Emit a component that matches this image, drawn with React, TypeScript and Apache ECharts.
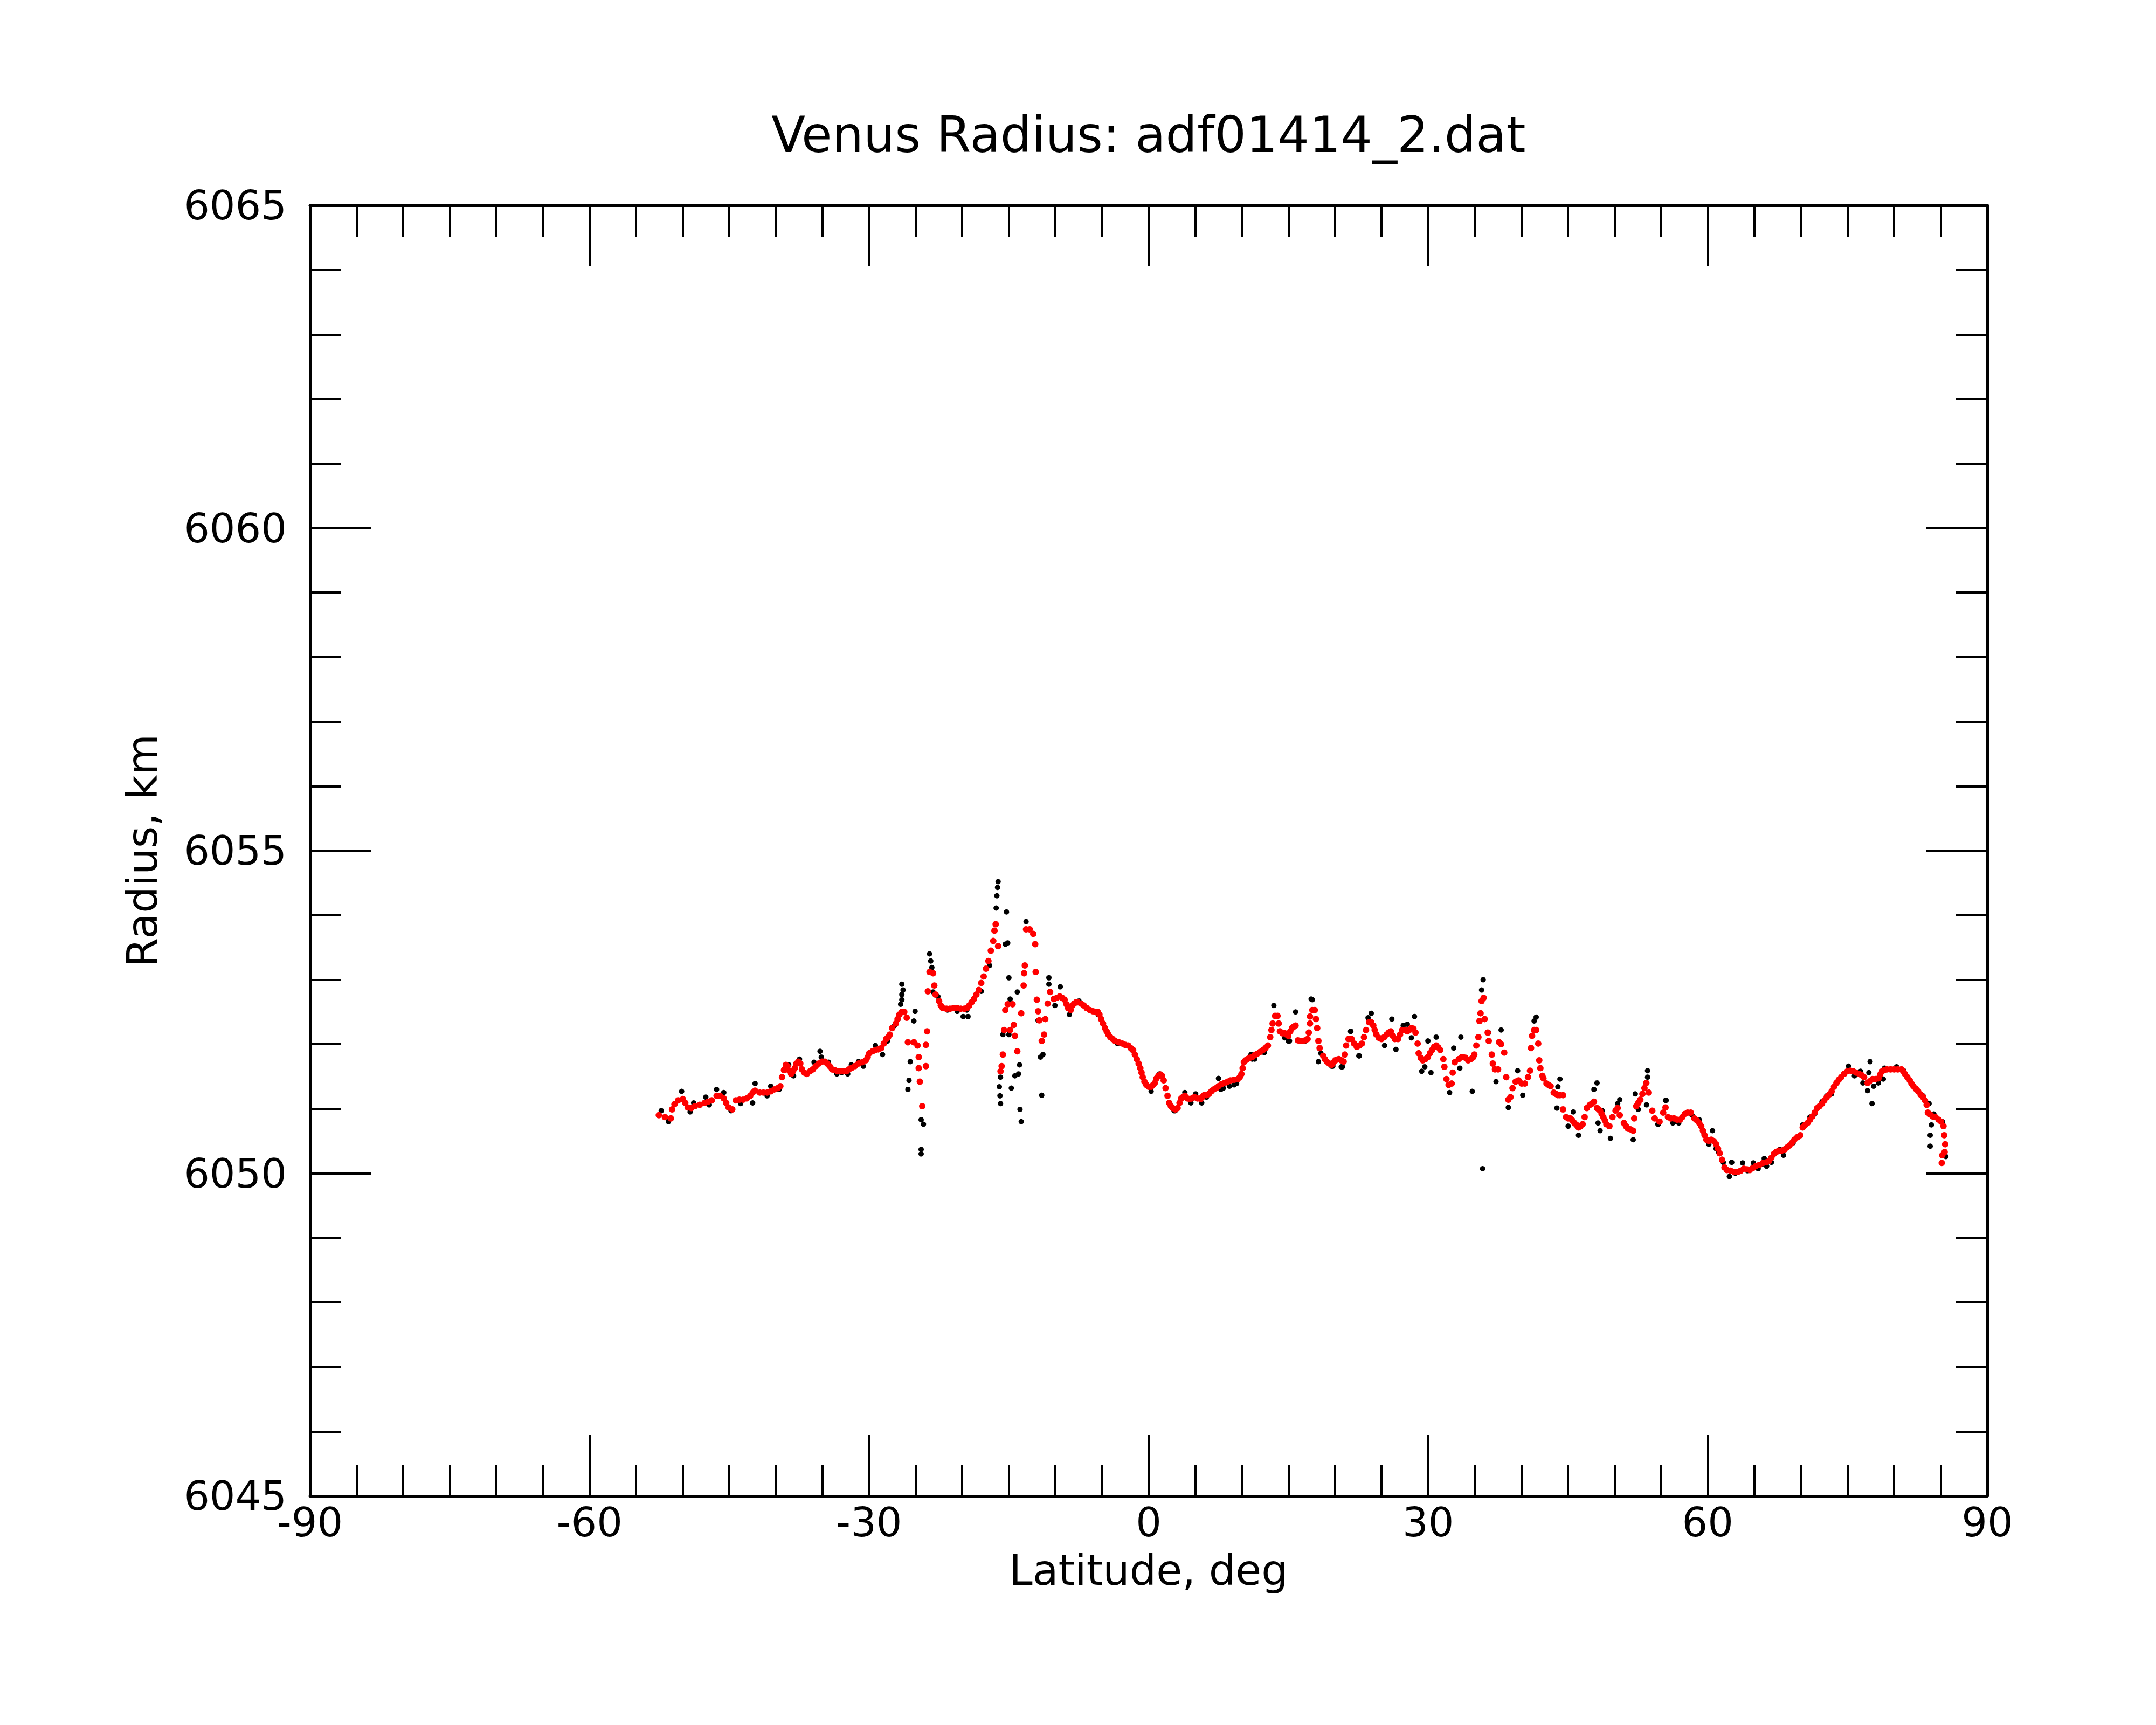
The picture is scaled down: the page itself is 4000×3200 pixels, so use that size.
import React, { useEffect, useRef } from "react";
import * as echarts from "echarts";

const TITLE = "Venus Radius: adf01414_2.dat";
const X_NAME = "Latitude, deg";
const Y_NAME = "Radius, km";
const X_MIN = -90;
const X_MAX = 90;
const X_STEP = 30;
const Y_MIN = 6045;
const Y_MAX = 6065;
const Y_STEP = 5;

// Red (smoothed) points: [latitude deg, radius km]
const redSouth: [number, number][] = [
  [-52.56, 6050.9], [-51.27, 6050.85], [-51.14, 6050.99], [-50.49, 6051.13], [-49.98, 6051.15],
  [-49.46, 6051.02], [-48.69, 6051.04], [-47.65, 6051.09], [-46.88, 6051.13], [-46.36, 6051.2],
  [-45.59, 6051.16], [-45.07, 6051.02], [-44.68, 6050.99], [-44.3, 6051.13], [-43.52, 6051.14],
  [-42.75, 6051.2], [-42.23, 6051.28], [-41.72, 6051.25], [-40.94, 6051.25], [-40.17, 6051.3],
  [-39.52, 6051.35], [-39.13, 6051.6], [-38.75, 6051.66], [-38.36, 6051.54], [-37.97, 6051.63],
  [-37.58, 6051.73], [-37.2, 6051.61], [-36.68, 6051.54], [-36.03, 6051.61], [-35.39, 6051.7],
  [-34.74, 6051.73], [-34.23, 6051.66], [-33.71, 6051.6], [-33.07, 6051.58], [-32.42, 6051.58],
  [-31.9, 6051.63], [-31.13, 6051.7], [-30.35, 6051.75], [-29.97, 6051.86], [-29.32, 6051.91],
  [-28.68, 6051.94], [-28.16, 6052.08], [-27.77, 6052.15], [-27.52, 6052.25], [-27.13, 6052.32],
  [-26.74, 6052.46], [-26.22, 6052.5], [-25.96, 6052.41],
];

const redSouthMore: [number, number][] = [
  [-51.91, 6050.87], [-50.88, 6051.07], [-49.72, 6051.09], [-49.07, 6051.01], [-48.17, 6051.06],
  [-47.27, 6051.11], [-45.98, 6051.2], [-45.33, 6051.09], [-43.91, 6051.14], [-43.13, 6051.16],
  [-42.49, 6051.25], [-41.33, 6051.25], [-40.55, 6051.27], [-39.78, 6051.32], [-39.34, 6051.49],
  [-38.93, 6051.68], [-38.56, 6051.59], [-38.15, 6051.58], [-37.79, 6051.7], [-37.38, 6051.7],
  [-36.94, 6051.56], [-36.34, 6051.58], [-35.72, 6051.66], [-35.05, 6051.73], [-34.49, 6051.7],
  [-33.97, 6051.61], [-33.4, 6051.58], [-32.73, 6051.58], [-32.16, 6051.61], [-31.52, 6051.66],
  [-30.74, 6051.72], [-30.15, 6051.8], [-29.63, 6051.89], [-29.01, 6051.92], [-28.42, 6052.01],
  [-27.95, 6052.11], [-26.94, 6052.39], [-26.48, 6052.5],
];

const redGap: [number, number][] = [
  [-25.83, 6052.03], [-25.19, 6052.03], [-24.8, 6051.98], [-24.67, 6051.8], [-24.67, 6051.63],
  [-24.55, 6051.42], [-24.29, 6051.04], [-23.9, 6051.66], [-23.9, 6051.99], [-23.77, 6052.2],
  [-23.69, 6052.82], [-23.51, 6053.12], [-23.13, 6053.1], [-23.0, 6052.91], [-22.87, 6052.77],
  [-22.48, 6052.67], [-22.09, 6052.56], [-21.32, 6052.55], [-20.54, 6052.56], [-19.77, 6052.55],
  [-19.25, 6052.6], [-18.74, 6052.7], [-18.22, 6052.84], [-17.7, 6053.05], [-17.19, 6053.29],
  [-16.67, 6053.6], [-16.54, 6053.76], [-16.41, 6053.86], [-16.15, 6053.52],
  [-22.3, 6052.6], [-21.7, 6052.55], [-20.93, 6052.56], [-20.16, 6052.55], [-19.51, 6052.56],
  [-19.0, 6052.65], [-18.48, 6052.77], [-17.96, 6052.95], [-17.45, 6053.17], [-16.93, 6053.45],
  [-15.38, 6052.53], [-15.12, 6052.62], [-14.6, 6052.62], [-15.51, 6052.22], [-15.64, 6051.84],
  [-15.77, 6051.66], [-15.89, 6051.58], [-14.86, 6052.22], [-14.47, 6052.3], [-14.35, 6052.13],
  [-14.09, 6051.89], [-13.67, 6052.48], [-13.41, 6052.91], [-13.36, 6053.1], [-13.28, 6053.22],
  [-13.15, 6053.78], [-12.76, 6053.78], [-12.38, 6053.71], [-12.17, 6053.55], [-12.12, 6053.12],
  [-11.99, 6052.69], [-11.86, 6052.51], [-11.73, 6052.37], [-11.47, 6052.05], [-11.22, 6052.15],
  [-11.09, 6052.39], [-10.83, 6052.63], [-10.57, 6052.81],
];

const redEquator: [number, number][] = [
  [-10.18, 6052.7], [-9.54, 6052.74], [-9.02, 6052.69], [-8.63, 6052.56], [-8.37, 6052.53],
  [-7.99, 6052.63], [-7.6, 6052.65], [-6.95, 6052.6], [-6.31, 6052.53], [-5.66, 6052.5],
  [-5.28, 6052.46], [-4.89, 6052.32], [-4.5, 6052.2], [-4.11, 6052.11], [-3.6, 6052.05],
  [-2.82, 6052.01], [-2.18, 6051.98], [-1.66, 6051.91], [-1.27, 6051.77], [-0.89, 6051.63],
  [-0.63, 6051.49], [-0.24, 6051.37], [0.27, 6051.34], [0.66, 6051.4], [1.05, 6051.51],
  [1.44, 6051.51], [1.82, 6051.32], [2.21, 6051.09], [2.6, 6051.01], [3.11, 6051.01],
  [3.5, 6051.16], [3.89, 6051.2], [4.41, 6051.15], [4.92, 6051.18], [5.57, 6051.15],
  [5.95, 6051.21], [6.47, 6051.23], [6.99, 6051.3], [7.5, 6051.35], [8.15, 6051.4],
  [8.79, 6051.44], [9.57, 6051.46], [9.96, 6051.54], [10.22, 6051.72], [10.6, 6051.77],
  [11.12, 6051.8], [11.63, 6051.85], [12.28, 6051.91], [12.8, 6051.98], [13.05, 6052.11],
  [13.31, 6052.32], [13.57, 6052.44], [13.83, 6052.44], [13.96, 6052.32], [14.09, 6052.2],
  [14.6, 6052.17], [14.99, 6052.13], [15.38, 6052.25], [15.77, 6052.29], [16.02, 6052.06],
  [16.54, 6052.05], [17.06, 6052.08], [17.19, 6052.18], [17.32, 6052.32], [17.32, 6052.43],
  [17.57, 6052.53], [17.83, 6052.53], [17.96, 6052.39], [18.09, 6052.25], [18.22, 6052.05],
  [18.35, 6051.94], [18.74, 6051.82], [19.12, 6051.73], [19.64, 6051.68], [20.03, 6051.75],
  [20.41, 6051.77], [20.93, 6051.73], [21.06, 6051.84], [21.19, 6051.98],
];

const redEquatorMore: [number, number][] = [
  [-9.85, 6052.72], [-9.28, 6052.72], [-8.81, 6052.62], [-8.19, 6052.6], [-7.78, 6052.65],
  [-7.26, 6052.63], [-6.64, 6052.56], [-5.97, 6052.51], [-5.46, 6052.5], [-5.1, 6052.39],
  [-4.68, 6052.25], [-4.32, 6052.15], [-3.86, 6052.08], [-3.21, 6052.03], [-2.51, 6051.99],
  [-1.92, 6051.94], [-1.48, 6051.84], [-1.07, 6051.7], [-0.76, 6051.56], [-0.45, 6051.42],
  [0.02, 6051.34], [0.48, 6051.37], [0.84, 6051.47], [1.26, 6051.53], [1.62, 6051.44],
  [2.03, 6051.2], [2.39, 6051.04], [2.86, 6050.99], [3.32, 6051.09], [3.68, 6051.18],
  [4.15, 6051.16], [4.66, 6051.16], [5.23, 6051.16], [5.75, 6051.18], [6.21, 6051.21],
  [6.73, 6051.27], [7.25, 6051.32], [7.81, 6051.38], [8.48, 6051.42], [9.18, 6051.45],
  [9.78, 6051.49], [10.09, 6051.63], [10.4, 6051.75], [10.86, 6051.79], [11.38, 6051.83],
  [11.95, 6051.88], [12.54, 6051.94], [13.18, 6052.22], [14.35, 6052.17], [14.79, 6052.15],
  [15.2, 6052.2], [15.56, 6052.27], [16.28, 6052.05], [16.8, 6052.06], [18.92, 6051.77],
  [19.38, 6051.7], [19.85, 6051.72], [20.21, 6051.76], [20.67, 6051.75],
];

const redNorth: [number, number][] = [
  [21.45, 6052.08], [21.78, 6052.08], [22.34, 6051.96], [22.89, 6052.01], [23.33, 6052.22],
  [23.66, 6052.34], [24.11, 6052.29], [24.44, 6052.15], [24.99, 6052.08], [25.55, 6052.15],
  [25.99, 6052.2], [26.43, 6052.08], [26.76, 6052.08], [27.21, 6052.22], [27.76, 6052.2],
  [28.2, 6052.25], [28.64, 6052.18], [28.87, 6052.01], [28.98, 6051.86], [29.42, 6051.75],
  [29.97, 6051.8], [30.41, 6051.91], [30.86, 6051.98], [31.3, 6051.91], [31.63, 6051.77],
  [31.74, 6051.65], [31.96, 6051.46], [32.19, 6051.37], [32.52, 6051.39], [32.63, 6051.56],
  [32.85, 6051.72], [33.29, 6051.77], [33.73, 6051.8], [34.29, 6051.75], [34.84, 6051.8],
  [35.17, 6051.98], [35.39, 6052.11], [35.51, 6052.36], [35.62, 6052.48], [35.73, 6052.67],
  [35.95, 6052.72], [36.06, 6052.39], [36.39, 6052.18], [36.5, 6052.05], [36.83, 6051.84],
  [36.94, 6051.7], [37.17, 6051.61], [37.5, 6051.61], [37.61, 6052.03], [37.83, 6052.0],
  [38.16, 6051.87], [38.38, 6051.49], [38.6, 6051.14], [38.83, 6051.18], [39.05, 6051.32],
  [39.38, 6051.42], [39.71, 6051.44], [40.04, 6051.39], [40.38, 6051.39], [40.71, 6051.49],
  [40.93, 6051.59], [41.04, 6051.94], [41.15, 6052.13], [41.37, 6052.22], [41.59, 6052.22],
  [41.81, 6052.01], [41.92, 6051.75], [42.04, 6051.63], [42.26, 6051.51], [42.7, 6051.39],
  [43.14, 6051.35], [43.47, 6051.25], [43.92, 6051.21], [44.47, 6051.21], [44.47, 6050.99],
  [44.8, 6050.87], [45.24, 6050.85], [45.69, 6050.78], [46.13, 6050.71], [46.57, 6050.76],
  [46.79, 6050.87], [47.02, 6051.01], [47.35, 6051.06], [47.79, 6051.11], [48.12, 6051.01],
  [48.45, 6050.97], [48.79, 6050.87], [49.12, 6050.76], [49.45, 6050.73], [49.78, 6050.87],
  [50.11, 6050.97], [50.33, 6051.01], [50.56, 6050.9], [51.0, 6050.78], [51.44, 6050.69],
  [52.0, 6050.66], [52.11, 6050.85], [52.33, 6051.04], [52.77, 6051.14], [53.21, 6051.32],
];

const redNorthMore: [number, number][] = [
  [22.05, 6052.01], [22.62, 6051.98], [23.11, 6052.11], [23.89, 6052.34], [24.26, 6052.22],
  [24.7, 6052.1], [25.28, 6052.11], [25.77, 6052.18], [26.21, 6052.13], [26.98, 6052.15],
  [27.49, 6052.22], [27.98, 6052.22], [28.42, 6052.24], [29.2, 6051.79], [29.71, 6051.77],
  [30.19, 6051.86], [30.64, 6051.96], [31.08, 6051.95], [33.62, 6051.8], [34.0, 6051.79],
  [34.58, 6051.77], [34.95, 6051.84], [42.37, 6051.47], [42.92, 6051.37], [43.7, 6051.23],
  [44.14, 6051.21], [45.02, 6050.85], [45.47, 6050.82], [45.91, 6050.75], [46.35, 6050.73],
  [47.57, 6051.08], [48.3, 6050.99], [48.61, 6050.92], [48.96, 6050.82], [51.22, 6050.73],
  [51.71, 6050.68], [52.55, 6051.09], [52.99, 6051.23],
];

const redPolar: [number, number][] = [
  [53.41, 6051.4], [53.67, 6051.25], [54.05, 6050.97], [54.31, 6050.85], [54.83, 6050.8],
  [55.22, 6050.94], [55.47, 6051.02], [55.73, 6050.87], [56.38, 6050.85], [57.02, 6050.83],
  [57.54, 6050.92], [58.18, 6050.94], [58.57, 6050.85], [59.09, 6050.78], [59.48, 6050.66],
  [59.86, 6050.52], [60.38, 6050.52], [60.9, 6050.45], [61.28, 6050.31], [61.54, 6050.21],
  [61.8, 6050.09], [62.45, 6050.04], [63.22, 6050.02], [63.87, 6050.07], [64.51, 6050.05],
  [65.16, 6050.11], [65.93, 6050.16], [66.58, 6050.19], [67.09, 6050.3], [67.61, 6050.35],
  [68.25, 6050.37], [68.77, 6050.43], [69.29, 6050.52], [69.93, 6050.59], [70.19, 6050.71],
  [70.71, 6050.78], [71.22, 6050.88], [71.74, 6051.01], [72.26, 6051.08], [72.77, 6051.18],
  [73.29, 6051.27], [73.81, 6051.4], [74.32, 6051.49], [74.97, 6051.58], [75.61, 6051.58],
  [76.26, 6051.54], [76.78, 6051.49], [77.16, 6051.4], [77.68, 6051.46], [78.32, 6051.47],
  [78.71, 6051.58], [79.23, 6051.61], [80.0, 6051.61], [80.78, 6051.61], [81.16, 6051.54],
  [81.68, 6051.44], [82.07, 6051.35], [82.58, 6051.27], [83.1, 6051.18], [83.49, 6051.06],
  [83.62, 6050.94], [84.13, 6050.88], [84.78, 6050.83], [85.3, 6050.73], [85.37, 6050.59],
  [85.48, 6050.45], [85.42, 6050.33], [85.17, 6050.28], [85.11, 6050.16],
];

const redPolarMore: [number, number][] = [
  [56.04, 6050.85], [56.71, 6050.83], [57.28, 6050.87], [57.85, 6050.94], [58.83, 6050.82],
  [59.3, 6050.73], [59.66, 6050.59], [60.12, 6050.5], [60.64, 6050.5], [61.1, 6050.38],
  [62.06, 6050.05], [62.83, 6050.02], [63.53, 6050.04], [64.2, 6050.06], [64.82, 6050.08],
  [65.54, 6050.13], [66.27, 6050.17], [66.83, 6050.24], [67.35, 6050.33], [67.92, 6050.35],
  [68.51, 6050.4], [69.03, 6050.47], [69.62, 6050.56], [70.45, 6050.75], [70.97, 6050.83],
  [71.48, 6050.94], [72.0, 6051.04], [72.51, 6051.13], [73.03, 6051.22], [73.55, 6051.34],
  [74.06, 6051.45], [74.63, 6051.54], [75.3, 6051.59], [75.92, 6051.56], [76.52, 6051.52],
  [77.42, 6051.43], [77.99, 6051.46], [78.5, 6051.53], [78.97, 6051.6], [79.62, 6051.61],
  [80.39, 6051.61], [80.98, 6051.58], [81.42, 6051.49], [81.86, 6051.39], [82.33, 6051.31],
  [82.84, 6051.22], [83.31, 6051.13], [83.88, 6050.91], [84.44, 6050.87], [85.04, 6050.8],
];

// Black (raw) points: [latitude deg, radius km]
const blackSouth: [number, number][] = [
  [-52.3, 6050.97], [-51.53, 6050.8], [-50.11, 6051.27], [-49.2, 6050.95], [-48.82, 6051.09],
  [-47.52, 6051.18], [-47.14, 6051.06], [-46.36, 6051.3], [-45.59, 6051.25], [-44.81, 6050.97],
  [-43.78, 6051.08], [-42.49, 6051.09], [-42.23, 6051.39], [-40.94, 6051.2], [-40.55, 6051.35],
  [-39.65, 6051.3], [-38.62, 6051.68], [-38.1, 6051.51], [-37.46, 6051.77], [-36.68, 6051.54],
  [-35.9, 6051.72], [-35.26, 6051.89], [-35.13, 6051.8], [-34.36, 6051.72], [-33.45, 6051.54],
  [-32.94, 6051.56], [-32.29, 6051.54], [-31.9, 6051.68], [-31.13, 6051.73], [-30.61, 6051.66],
  [-29.32, 6051.98], [-28.55, 6051.84], [-28.03, 6052.05], [-27.26, 6052.29],
];

const blackGap: [number, number][] = [
  [-26.48, 6052.93], [-26.35, 6052.84], [-26.48, 6052.77], [-26.48, 6052.69], [-26.61, 6052.62],
  [-26.87, 6052.39], [-25.06, 6052.51], [-25.19, 6052.36], [-25.58, 6051.73], [-25.71, 6051.44],
  [-25.83, 6051.3], [-24.41, 6050.83], [-24.16, 6050.76], [-24.41, 6050.37], [-24.41, 6050.3],
  [-23.51, 6053.4], [-23.38, 6053.29], [-23.26, 6053.19], [-23.13, 6052.81], [-22.61, 6052.74],
  [-21.58, 6052.53], [-20.54, 6052.51], [-19.9, 6052.43], [-19.51, 6052.53], [-19.38, 6052.43],
  [-17.96, 6052.82], [-17.06, 6053.22],
  [-16.15, 6054.52], [-16.21, 6054.43], [-16.28, 6054.3], [-16.36, 6054.11], [-15.25, 6054.05],
  [-15.12, 6053.57], [-15.38, 6053.55], [-14.99, 6053.03], [-14.09, 6052.81], [-14.86, 6052.7],
  [-14.99, 6052.15], [-15.64, 6052.15], [-15.89, 6051.49], [-16.02, 6051.34], [-15.95, 6051.2],
  [-15.89, 6051.08], [-14.73, 6051.32], [-14.35, 6051.51], [-13.85, 6051.68], [-13.96, 6051.54],
  [-13.8, 6050.99], [-13.67, 6050.8], [-13.15, 6053.9], [-10.7, 6053.03], [-10.7, 6052.93],
  [-9.48, 6052.89], [-10.05, 6052.6], [-11.47, 6051.21], [-11.6, 6051.8], [-11.34, 6051.84],
  [-11.86, 6052.37],
];

const blackEquator: [number, number][] = [
  [-8.5, 6052.46], [-7.47, 6052.67], [-5.41, 6052.46], [-3.34, 6052.01], [-1.79, 6051.91],
  [0.27, 6051.27], [1.18, 6051.54], [2.73, 6050.97], [2.86, 6050.97], [3.89, 6051.25],
  [4.54, 6051.09], [5.05, 6051.23], [5.7, 6051.09], [6.21, 6051.18], [7.5, 6051.47],
  [7.76, 6051.3], [8.02, 6051.32], [8.67, 6051.35], [9.18, 6051.37], [9.44, 6051.39],
  [10.99, 6051.84], [11.12, 6051.77], [11.38, 6051.77], [12.41, 6051.87], [13.44, 6052.6],
  [14.6, 6052.1], [14.99, 6052.05], [15.12, 6052.05], [15.77, 6052.5], [16.41, 6052.05],
  [16.8, 6052.05], [17.44, 6052.7], [17.57, 6052.69], [18.22, 6051.73], [18.48, 6051.86],
  [19.64, 6051.66], [19.77, 6051.66], [20.67, 6051.65], [20.8, 6051.65], [21.7, 6052.2],
];

const blackNorth: [number, number][] = [
  [21.67, 6052.2], [22.56, 6051.82], [22.61, 6051.82], [23.55, 6052.41], [23.89, 6052.48],
  [25.32, 6051.98], [26.1, 6052.39], [26.54, 6051.92], [27.32, 6052.29], [27.76, 6052.31],
  [28.2, 6052.1], [28.53, 6052.43], [29.31, 6051.58], [29.64, 6051.65], [29.97, 6052.05],
  [30.3, 6051.56], [30.86, 6052.11], [32.3, 6051.25], [32.74, 6051.94], [33.4, 6051.63],
  [33.51, 6052.11], [34.73, 6051.27], [35.73, 6052.84], [35.84, 6050.07], [35.9, 6053.0],
  [36.5, 6052.18], [37.28, 6051.42], [37.83, 6052.22], [38.6, 6051.02], [39.6, 6051.59],
  [40.15, 6051.21], [41.37, 6052.36], [41.59, 6052.42], [43.81, 6051.01], [43.92, 6051.34],
  [44.14, 6051.46], [45.02, 6050.73], [45.58, 6050.95], [46.13, 6050.59], [47.79, 6051.3],
  [48.12, 6051.4], [48.23, 6050.78], [48.45, 6050.66], [48.67, 6050.97], [49.56, 6050.54],
  [50.33, 6051.08], [50.56, 6051.14], [52.0, 6050.52], [52.22, 6051.23], [52.55, 6050.99],
  [53.43, 6051.06], [53.54, 6051.49], [53.54, 6051.59],
];

const blackPolar: [number, number][] = [
  [54.65, 6050.76], [54.7, 6050.76], [55.47, 6051.13], [55.54, 6051.13], [56.25, 6050.78],
  [56.51, 6050.8], [56.89, 6050.78], [58.31, 6050.9], [59.09, 6050.83], [59.61, 6050.61],
  [60.12, 6050.45], [60.51, 6050.66], [60.9, 6050.38], [61.15, 6050.33], [61.67, 6050.17],
  [62.32, 6049.95], [62.57, 6050.17], [62.96, 6050.0], [63.74, 6050.16], [64.25, 6050.04],
  [64.9, 6050.16], [65.41, 6050.07], [65.8, 6050.14], [66.06, 6050.23], [66.32, 6050.11],
  [66.83, 6050.17], [67.74, 6050.37], [68.13, 6050.28], [69.16, 6050.47], [70.19, 6050.75],
  [70.97, 6050.87], [71.48, 6050.92], [72.26, 6051.11], [72.77, 6051.2], [73.29, 6051.23],
  [74.32, 6051.49], [75.1, 6051.66], [75.61, 6051.59], [75.74, 6051.51], [76.39, 6051.58],
  [76.65, 6051.4], [77.16, 6051.28], [77.29, 6051.56], [77.42, 6051.73], [77.63, 6051.08],
  [77.81, 6051.35], [78.32, 6051.4], [78.84, 6051.46], [78.97, 6051.63], [80.26, 6051.65],
  [81.03, 6051.59], [82.07, 6051.35], [83.1, 6051.2], [83.75, 6051.08], [83.87, 6050.59],
  [83.87, 6050.42], [84.0, 6050.75], [84.26, 6050.92], [85.17, 6050.8], [85.55, 6050.26],
];

const FONT = "DejaVu Sans";

function buildOption() {
  const black = [...blackSouth, ...blackGap, ...blackEquator, ...blackNorth, ...blackPolar];
  const red = [
    ...redSouth, ...redSouthMore, ...redGap, ...redEquator, ...redEquatorMore,
    ...redNorth, ...redNorthMore, ...redPolar, ...redPolarMore,
  ];
  const grid = { left: 575, top: 381, width: 3112, height: 2394, containLabel: false };
  const lineStyle = { color: "#000", width: 5 };
  const tickStyle = { color: "#000", width: 4 };
  const xCommon = {
    type: "value" as const,
    min: X_MIN,
    max: X_MAX,
    interval: X_STEP,
    axisLine: { show: true, onZero: false, lineStyle },
    axisTick: { show: true, inside: true, length: 113, lineStyle: tickStyle },
    minorTick: { show: true, splitNumber: 6, length: 58, lineStyle: tickStyle },
    splitLine: { show: false },
    minorSplitLine: { show: false },
  };
  const yCommon = {
    type: "value" as const,
    min: Y_MIN,
    max: Y_MAX,
    interval: Y_STEP,
    axisLine: { show: true, onZero: false, lineStyle },
    axisTick: { show: true, inside: true, length: 113, lineStyle: tickStyle },
    minorTick: { show: true, splitNumber: 5, length: 58, lineStyle: tickStyle },
    splitLine: { show: false },
    minorSplitLine: { show: false },
  };
  const labelStyle = { color: "#000", fontSize: 75, fontFamily: FONT };
  return {
    animation: false,
    backgroundColor: "#fff",
    grid,
    xAxis: [
      {
        ...xCommon,
        position: "bottom",
        axisLabel: { ...labelStyle, margin: 16, lineHeight: 66, formatter: (v: number) => String(v) },
      },
      { ...xCommon, position: "top", axisLabel: { show: false } },
    ],
    yAxis: [
      {
        ...yCommon,
        position: "left",
        axisLabel: { ...labelStyle, margin: 43, formatter: (v: number) => String(v) },
      },
      { ...yCommon, position: "right", axisLabel: { show: false } },
    ],
    graphic: [
      {
        type: "text",
        x: 2131,
        y: 250,
        style: {
          text: TITLE, fill: "#000", fontSize: 92, fontFamily: FONT,
          align: "center", verticalAlign: "middle", textAlign: "center", textVerticalAlign: "middle",
        },
      },
      {
        type: "text",
        x: 2131,
        y: 2913,
        style: {
          text: X_NAME, fill: "#000", fontSize: 78, fontFamily: FONT, lineHeight: 62,
          align: "center", verticalAlign: "middle", textAlign: "center", textVerticalAlign: "middle",
        },
      },
      {
        type: "text",
        x: 264,
        y: 1578,
        rotation: Math.PI / 2,
        style: {
          text: Y_NAME, fill: "#000", fontSize: 78, fontFamily: FONT,
          align: "center", verticalAlign: "middle", textAlign: "center", textVerticalAlign: "middle",
        },
      },
    ],
    series: [
      {
        type: "scatter",
        name: "raw",
        xAxisIndex: 0,
        yAxisIndex: 0,
        data: black,
        symbol: "circle",
        symbolSize: 10,
        itemStyle: { color: "#000", opacity: 1 },
        z: 2,
      },
      {
        type: "scatter",
        name: "smoothed",
        xAxisIndex: 0,
        yAxisIndex: 0,
        data: red,
        symbol: "circle",
        symbolSize: 12,
        itemStyle: { color: "#ff0000", opacity: 1 },
        z: 3,
      },
    ],
  };
}

export default function App() {
  const ref = useRef<HTMLDivElement>(null);
  useEffect(() => {
    const el = ref.current;
    if (!el) return;
    const chart = echarts.init(el, undefined, { renderer: "svg", width: 4000, height: 3200 });
    chart.setOption(buildOption() as any);
    return () => chart.dispose();
  }, []);
  return (
    <div
      ref={ref}
      style={{ position: "absolute", left: 0, top: 0, width: 4000, height: 3200, background: "#fff" }}
    />
  );
}
